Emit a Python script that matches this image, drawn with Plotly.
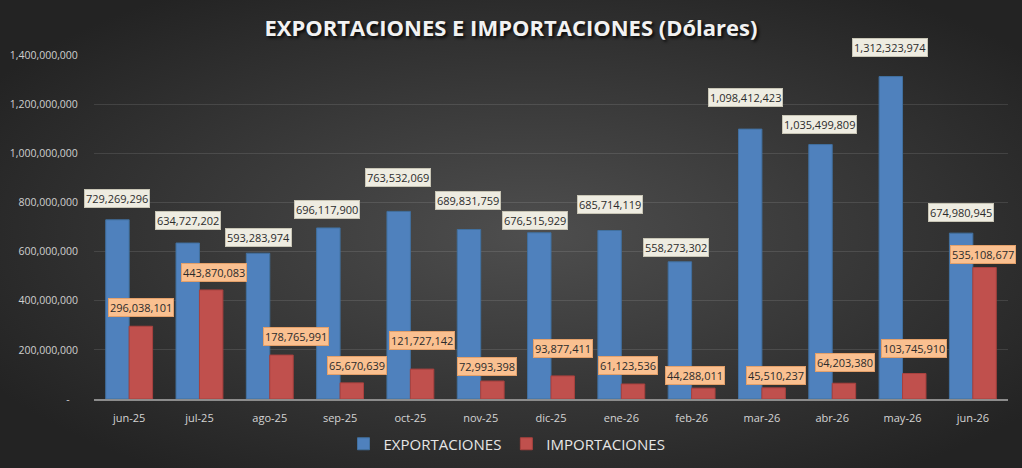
import base64
import plotly.graph_objects as go

# ---- data ----
MONTHS = ["jun-25", "jul-25", "ago-25", "sep-25", "oct-25", "nov-25", "dic-25",
          "ene-26", "feb-26", "mar-26", "abr-26", "may-26", "jun-26"]
EXPORTS = [729269296, 634727202, 593283974, 696117900, 763532069, 689831759, 676515929,
           685714119, 558273302, 1098412423, 1035499809, 1312323974, 674980945]
IMPORTS = [296038101, 443870083, 178765991, 65670639, 121727142, 72993398, 93877411,
           61123536, 44288011, 45510237, 64203380, 103745910, 535108677]
Y_TICK_VALS = [0, 200000000, 400000000, 600000000, 800000000, 1000000000, 1200000000, 1400000000]
Y_TICK_TEXT = ["-\u00a0\u00a0\u00a0", "200,000,000", "400,000,000", "600,000,000", "800,000,000",
               "1,000,000,000", "1,200,000,000", "1,400,000,000"]

# ---- label placement tweaks (pixels, relative to bar top / bar centre) ----
EXP_LABEL_DY = [21.5, 23, 15.5, 18.5, 34, 28.7, 12, 26.3, 14.7, 31.7, 19.7, 29.3, 20.3]
EXP_LABEL_DX = [0, 0, 0, -1, -1, -1, -4, 0, -4, -4.5, -1, -1, 0]
IMP_LABEL_DY = [18.5, 17.5, 18.5, 17, 29, 15, 27, 18, 13, 12, 21, 25, 13]
IMP_LABEL_DX = [0, 2.5, 15, 5.5, 0, -5, 0, -4.7, -8, 2.5, 1, 0, -2]

W, H = 1022, 468
ML, MR, MT, MB = 94, 14, 55, 69
PW, PH = W - ML - MR, H - MT - MB

BLUE = "#4F81BD"
RED = "#C0504D"
FONT = "Open Sans"

fig = go.Figure()
fig.add_bar(x=MONTHS, y=EXPORTS, name="EXPORTACIONES",
            marker=dict(color=BLUE, line=dict(color="#41709f", width=1)))
fig.add_bar(x=MONTHS, y=IMPORTS, name="IMPORTACIONES",
            marker=dict(color=RED, line=dict(color="#a8413e", width=1)))

fmt = lambda v: f"{v:,}"
annotations = []
for i, v in enumerate(EXPORTS):
    annotations.append(dict(
        x=i - 1 / 6, y=v, xref="x", yref="y", text=fmt(v), showarrow=False,
        xanchor="center", yanchor="middle", xshift=EXP_LABEL_DX[i], yshift=EXP_LABEL_DY[i],
        bgcolor="#EEECE1", bordercolor="#c8c5b5", borderwidth=1, borderpad=1,
        font=dict(family=FONT, size=11, color="#2b2b2b")))
for i, v in enumerate(IMPORTS):
    annotations.append(dict(
        x=i + 1 / 6, y=v, xref="x", yref="y", text=fmt(v), showarrow=False,
        xanchor="center", yanchor="middle", xshift=IMP_LABEL_DX[i], yshift=IMP_LABEL_DY[i],
        bgcolor="#FAC090", bordercolor="#e3a06a", borderwidth=1, borderpad=1,
        font=dict(family=FONT, size=11, color="#2b2b2b")))

svg = (f"<svg xmlns='http://www.w3.org/2000/svg' width='{W}' height='{H}'>"
       "<defs><radialGradient id='g' cx='0.52' cy='0.5' r='0.62'>"
       "<stop offset='0' stop-color='#4e4e4e'/><stop offset='1' stop-color='#232323'/>"
       "</radialGradient></defs>"
       f"<rect width='{W}' height='{H}' fill='url(#g)'/></svg>")
bg_src = "data:image/svg+xml;base64," + base64.b64encode(svg.encode()).decode()

fig.update_layout(
    width=W, height=H,
    margin=dict(l=ML, r=MR, t=MT, b=MB, autoexpand=False),
    paper_bgcolor="#333333",
    plot_bgcolor="rgba(0,0,0,0)",
    barmode="group", bargap=1 / 3, bargroupgap=0,
    hovermode=False,
    title=dict(text="EXPORTACIONES E IMPORTACIONES (Dólares)",
               x=0.5, xref="container", xanchor="center",
               y=1 - 28 / H, yref="container", yanchor="middle",
               font=dict(family=FONT, size=22, color="#f2f2f2", weight="bold",
                         shadow="2px 2px 3px rgba(0,0,0,0.8)")),
    legend=dict(orientation="h", x=(W / 2 - 4 - ML) / PW, xanchor="center",
                y=-(444 - (MT + PH)) / PH, yanchor="middle",
                font=dict(family=FONT, size=15, color="#e6e6e6"),
                bgcolor="rgba(0,0,0,0)", traceorder="normal"),
    xaxis=dict(type="category", range=[-0.5, len(MONTHS) - 0.5], autorange=False,
               showgrid=False, showline=True, linecolor="#8c8c8c", linewidth=1.5,
               ticks="outside", ticklen=8, tickcolor="rgba(0,0,0,0)",
               tickfont=dict(family=FONT, size=11, color="#d4d4d4"), fixedrange=True),
    yaxis=dict(range=[0, 1400000000], autorange=False, tickvals=Y_TICK_VALS, ticktext=Y_TICK_TEXT,
               showgrid=True, gridcolor="rgba(255,255,255,0.11)", gridwidth=1,
               zeroline=False, showline=False,
               ticks="outside", ticklen=13, tickcolor="rgba(0,0,0,0)",
               tickfont=dict(family=FONT, size=10.5, color="#cfcfcf"), fixedrange=True),
    annotations=annotations,
    images=[dict(source=bg_src, xref="paper", yref="paper",
                 x=-ML / PW, y=1 + MT / PH, sizex=W / PW, sizey=H / PH,
                 xanchor="left", yanchor="top", sizing="stretch", layer="below")],
)

fig.write_html("out.html", config={"displayModeBar": False},
               post_script="document.body.style.margin='0';document.body.style.padding='0';")
